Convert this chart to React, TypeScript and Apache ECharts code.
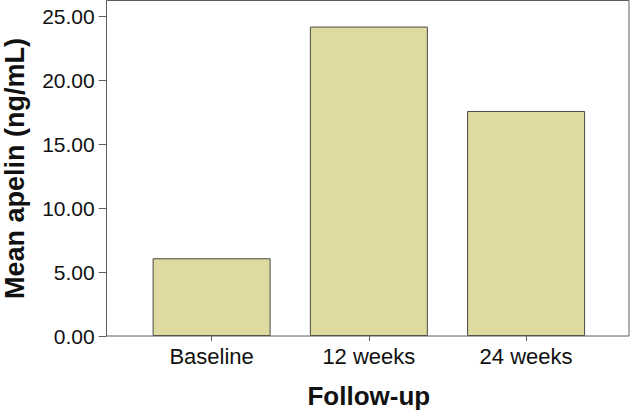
import React, { useEffect, useRef } from "react";
import * as echarts from "echarts";

const categories = ["Baseline", "12 weeks", "24 weeks"];
const meanApelin = [6.08, 24.2, 17.6];
const yTicks = { min: 0, max: 26.2, interval: 5 };

export default function App() {
  const ref = useRef<HTMLDivElement>(null);
  useEffect(() => {
    if (!ref.current) return;
    const chart = echarts.init(ref.current, null, { renderer: "svg" });
    const font = "'Liberation Sans', Arial, Helvetica, sans-serif";
    chart.setOption({
      animation: false,
      backgroundColor: "#ffffff",
      grid: { left: 133, right: 26.3, top: 1, bottom: 75, outerBoundsMode: "none", containLabel: false },
      graphic: [
        {
          type: "rect",
          z: 10,
          shape: { x: 106.5, y: 0.5, width: 522.5, height: 335.5 },
          style: { fill: "none", stroke: "#5e5e5e", lineWidth: 1 },
          silent: true,
        },
      ],
      xAxis: {
        type: "category",
        data: categories,
        boundaryGap: true,
        axisLine: { show: false },
        axisTick: { show: true, alignWithLabel: true, length: 5, lineStyle: { color: "#5e5e5e" } },
        axisLabel: { color: "#111", fontSize: 22, fontFamily: font, margin: 9 },
        name: "Follow-up",
        nameLocation: "middle",
        nameGap: 47,
        nameTextStyle: { color: "#111", fontSize: 26, fontWeight: "bold", fontFamily: font },
      },
      yAxis: {
        type: "value",
        min: yTicks.min,
        max: yTicks.max,
        interval: yTicks.interval,
        offset: 26.3,
        splitLine: { show: false },
        axisLine: { show: false },
        axisTick: { show: true, length: 8, lineStyle: { color: "#5e5e5e" } },
        axisLabel: {
          color: "#111",
          fontSize: 21,
          fontFamily: font,
          margin: 12,
          formatter: (v: number) => v.toFixed(2),
        },
        name: "Mean apelin (ng/mL)",
        nameLocation: "middle",
        nameGap: 78,
        nameTextStyle: { color: "#111", fontSize: 27, fontWeight: "bold", fontFamily: font },
      },
      series: [
        {
          type: "bar",
          data: meanApelin,
          barWidth: 118,
          itemStyle: { color: "#dedaa0", borderColor: "#4a4a40", borderWidth: 1 },
        },
      ],
    });
    return () => chart.dispose();
  }, []);
  return <div ref={ref} style={{ width: 631, height: 411, position: "absolute", left: 0, top: 0 }} />;
}
